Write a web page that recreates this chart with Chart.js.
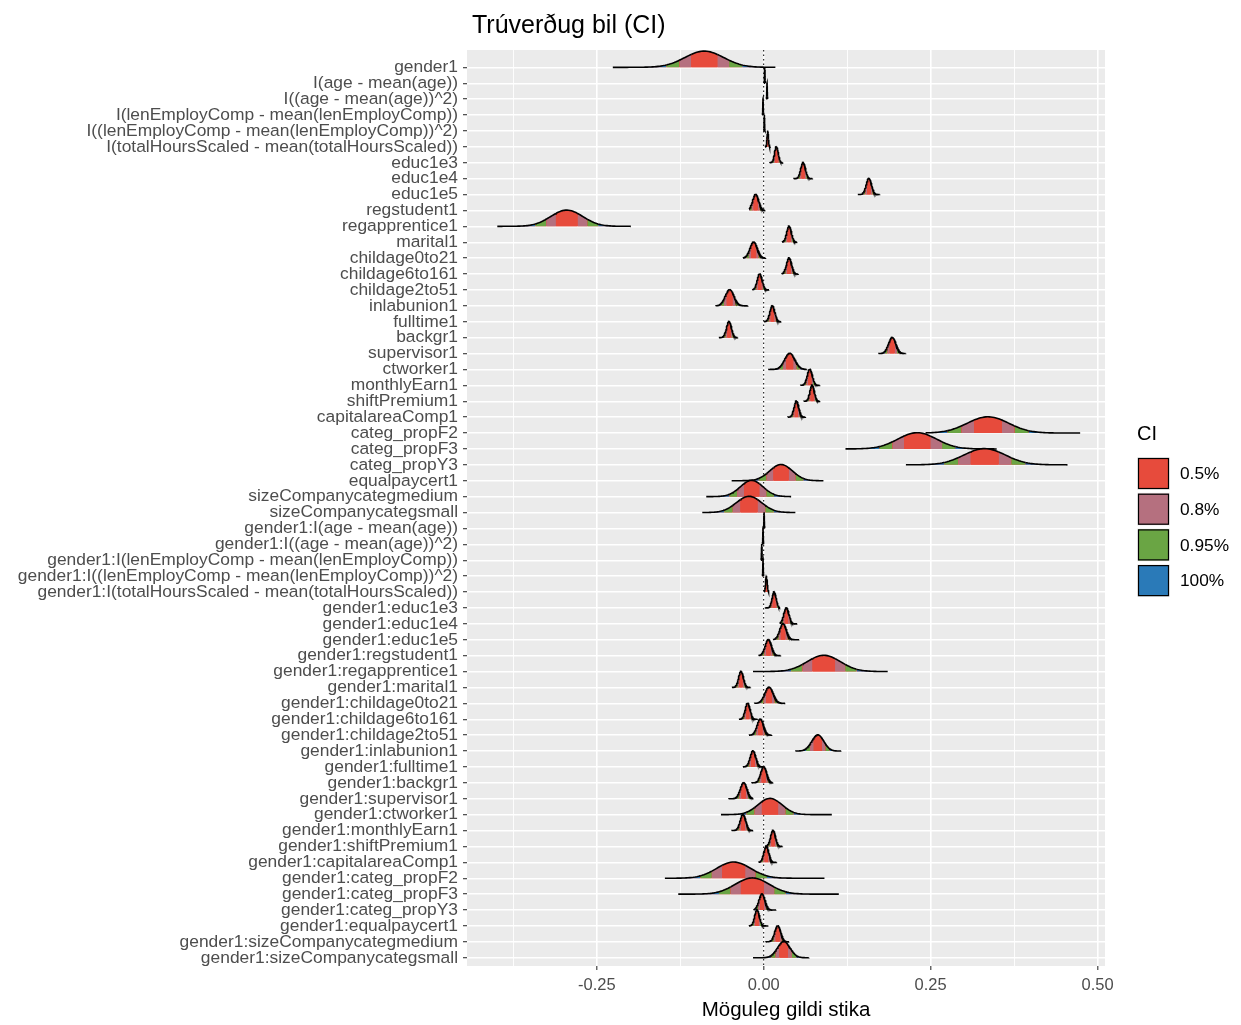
<!DOCTYPE html>
<html>
<head>
<meta charset="utf-8">
<title>Trúverðug bil (CI)</title>
<script src="https://cdn.jsdelivr.net/npm/chart.js@4/dist/chart.umd.min.js"></script>
<style>
  html, body { margin: 0; padding: 0; background: #fff; }
  #wrap { width: 1241px; height: 1025px; }
</style>
</head>
<body>
<div id="wrap"><canvas id="ridges" width="1241" height="1025"></canvas></div>
<script>
// parameters, top row first
const params = [
  "gender1", "I(age - mean(age))", "I((age - mean(age))^2)",
  "I(lenEmployComp - mean(lenEmployComp))", "I((lenEmployComp - mean(lenEmployComp))^2)",
  "I(totalHoursScaled - mean(totalHoursScaled))", "educ1e3", "educ1e4", "educ1e5",
  "regstudent1", "regapprentice1", "marital1", "childage0to21", "childage6to161",
  "childage2to51", "inlabunion1", "fulltime1", "backgr1", "supervisor1", "ctworker1",
  "monthlyEarn1", "shiftPremium1", "capitalareaComp1", "categ_propF2", "categ_propF3",
  "categ_propY3", "equalpaycert1", "sizeCompanycategmedium", "sizeCompanycategsmall",
  "gender1:I(age - mean(age))", "gender1:I((age - mean(age))^2)",
  "gender1:I(lenEmployComp - mean(lenEmployComp))",
  "gender1:I((lenEmployComp - mean(lenEmployComp))^2)",
  "gender1:I(totalHoursScaled - mean(totalHoursScaled))",
  "gender1:educ1e3", "gender1:educ1e4", "gender1:educ1e5", "gender1:regstudent1",
  "gender1:regapprentice1", "gender1:marital1", "gender1:childage0to21",
  "gender1:childage6to161", "gender1:childage2to51", "gender1:inlabunion1",
  "gender1:fulltime1", "gender1:backgr1", "gender1:supervisor1", "gender1:ctworker1",
  "gender1:monthlyEarn1", "gender1:shiftPremium1", "gender1:capitalareaComp1",
  "gender1:categ_propF2", "gender1:categ_propF3", "gender1:categ_propY3",
  "gender1:equalpaycert1", "gender1:sizeCompanycategmedium", "gender1:sizeCompanycategsmall"
];

// posterior centre, spread and draw range
const centers = [
  -0.089, 0.0015, 0.005, -0.001, 0.001, 0.006, 0.019, 0.059, 0.1575,
  -0.012, -0.295, 0.038, -0.015, 0.038,
  -0.006, -0.051, 0.013, -0.052, 0.1925, 0.039,
  0.069, 0.0725, 0.049, 0.336, 0.23,
  0.331, 0.026, -0.018, -0.022,
  0.0006, -0.001, -0.003, -0.001, 0.004,
  0.0156, 0.034, 0.029, 0.007,
  0.09, -0.034, 0.008,
  -0.024, -0.005, 0.081,
  -0.016, 0.0, -0.03, 0.0094,
  -0.031, 0.014, 0.004,
  -0.045, -0.017, -0.0025,
  -0.01, 0.021, 0.03
];
const spreads = [
  0.029, 0.0003, 0.0003, 0.0003, 0.0003, 0.001, 0.0027, 0.0035, 0.004,
  0.0045, 0.024, 0.0035, 0.0055, 0.0038,
  0.0037, 0.0065, 0.0037, 0.0037, 0.0055, 0.0077,
  0.0038, 0.0033, 0.0035, 0.031, 0.029,
  0.031, 0.017, 0.017, 0.019,
  0.0003, 0.0003, 0.0003, 0.0003, 0.0012,
  0.003, 0.0038, 0.005, 0.0047,
  0.025, 0.0036, 0.0063,
  0.0036, 0.0048, 0.009,
  0.0042, 0.0045, 0.005, 0.018,
  0.0042, 0.0036, 0.0037,
  0.0255, 0.0255, 0.0045,
  0.0035, 0.0045, 0.0095
];
const lows = [
  -0.226, 0.0005, 0.004, -0.002, 0.0, 0.002, 0.009, 0.045, 0.141,
  -0.022, -0.399, 0.0275, -0.031, 0.027,
  -0.017, -0.072, 0.0006, -0.067, 0.172, 0.007,
  0.055, 0.06, 0.036, 0.2425, 0.1225,
  0.213, -0.048, -0.086, -0.092,
  -0.0004, -0.002, -0.004, -0.002, 0.0006,
  0.002, 0.024, 0.014, -0.0075,
  -0.016, -0.0475, -0.014,
  -0.037, -0.022, 0.0475,
  -0.031, -0.018, -0.0525, -0.064,
  -0.048, 0.003, -0.0075,
  -0.148, -0.128, -0.015,
  -0.022, 0.003, -0.016
];
const highs = [
  0.0175, 0.0025, 0.006, 0.0, 0.002, 0.01, 0.029, 0.073, 0.174,
  0.002, -0.199, 0.05, 0.003, 0.052,
  0.008, -0.024, 0.026, -0.039, 0.2125, 0.064,
  0.084, 0.084, 0.0625, 0.474, 0.349,
  0.455, 0.091, 0.0425, 0.049,
  0.0016, 0.0, -0.002, 0.0, 0.008,
  0.024, 0.05, 0.053, 0.0256,
  0.188, -0.02, 0.032,
  -0.009, 0.0125, 0.116,
  0.0, 0.014, -0.016, 0.102,
  -0.016, 0.028, 0.019,
  0.091, 0.1125, 0.019,
  0.007, 0.038, 0.0675
];

const ciLabels = ["0.5%", "0.8%", "0.95%", "100%"];
const ciColors = ["#E74B3C", "#B5707F", "#6AA544", "#2A7AB8"];
const ciZ = [0.674, 1.2816, 1.96];   // half-widths of the bands in sd units

const xTickValues = [-0.375, -0.25, -0.125, 0, 0.125, 0.25, 0.375, 0.5];
const xMajor = [-0.25, 0, 0.25, 0.5];

const ridgeHeight = 1.02;   // peak height in rows
const steps = 90;

function bandColor(i, x) {
  const z = Math.abs(x - centers[i]) / spreads[i];
  if (z < ciZ[0]) return ciColors[0];
  if (z < ciZ[1]) return ciColors[1];
  if (z < ciZ[2]) return ciColors[2];
  return ciColors[3];
}

function ridgePoints(i) {
  const m = centers[i], s = spreads[i];
  let xs = [];
  for (let k = 0; k <= steps; k++) xs.push(lows[i] + (highs[i] - lows[i]) * k / steps);
  ciZ.forEach(z => { xs.push(m - z * s); xs.push(m + z * s); });
  xs.push(m);
  xs = xs.filter(x => x >= lows[i] && x <= highs[i]).sort((a, b) => a - b);
  return xs.map(x => ({x: x, y: i - ridgeHeight * Math.exp(-0.5 * Math.pow((x - m) / s, 2))}));
}

const datasets = [];
params.forEach((name, i) => {
  const pts = ridgePoints(i);
  // plain underlay so the band seams don't show the panel through
  datasets.push({
    label: name + " base",
    data: pts,
    borderWidth: 0,
    borderColor: "rgba(0,0,0,0)",
    pointRadius: 0,
    tension: 0,
    fill: {value: i},
    backgroundColor: ciColors[0],
    order: 2 * (params.length - i) + 1
  });
  datasets.push({
    label: name,
    data: pts,
    borderColor: "#000000",
    borderWidth: 1.6,
    pointRadius: 0,
    tension: 0,
    fill: {value: i},
    backgroundColor: ciColors[0],
    segment: {
      backgroundColor: ctx => bandColor(i, (ctx.p0.parsed.x + ctx.p1.parsed.x) / 2)
    },
    order: 2 * (params.length - i)
  });
});

const yMin = -1.09, yMax = params.length - 1 + 0.52;

// dotted reference line at zero, under the ridges
datasets.push({
  label: "zero",
  data: [{x: 0, y: yMin}, {x: 0, y: yMax}],
  borderColor: "#000000",
  borderWidth: 1,
  borderDash: [1.5, 3],
  pointRadius: 0,
  fill: false,
  order: 1000
});

const panelBg = {
  id: "panelBg",
  beforeDraw(chart) {
    const {ctx, chartArea: a} = chart;
    ctx.save();
    ctx.fillStyle = "#EBEBEB";
    ctx.fillRect(a.left, a.top, a.right - a.left, a.bottom - a.top);
    ctx.restore();
  }
};

const titleAndKey = {
  id: "titleAndKey",
  afterDraw(chart) {
    const {ctx, chartArea: a} = chart;
    ctx.save();
    ctx.fillStyle = "#000000";
    ctx.textBaseline = "alphabetic";
    ctx.textAlign = "left";
    ctx.font = "25px 'Liberation Sans', Arial, sans-serif";
    ctx.fillText("Trúverðug bil (CI)", a.left + 5, 33);

    // legend
    const lx = 1137, ly = 457, box = 33, pitch = 35.7;
    ctx.font = "20px 'Liberation Sans', Arial, sans-serif";
    ctx.textBaseline = "middle";
    ctx.fillText("CI", lx, 434);
    ctx.font = "17.3px 'Liberation Sans', Arial, sans-serif";
    ciLabels.forEach((lab, k) => {
      const y = ly + k * pitch;
      ctx.fillStyle = "#F2F2F2";
      ctx.fillRect(lx, y, box, box);
      ctx.fillStyle = ciColors[k];
      ctx.fillRect(lx + 1, y + 1, box - 2, box - 2);
      ctx.strokeStyle = "#000000";
      ctx.lineWidth = 1.2;
      ctx.strokeRect(lx + 1.5, y + 1.5, box - 3, box - 3);
      ctx.fillStyle = "#000000";
      ctx.fillText(lab, lx + 43, y + box / 2 + 1);
    });
    ctx.restore();
  }
};

new Chart(document.getElementById("ridges"), {
  type: "line",
  data: {datasets: datasets},
  options: {
    responsive: false,
    animation: false,
    events: [],
    layout: {padding: {top: 50, right: 136, bottom: 0, left: 0}},
    plugins: {
      legend: {display: false},
      tooltip: {enabled: false},
      title: {display: false}
    },
    scales: {
      x: {
        type: "linear",
        min: -0.4444,
        max: 0.5112,
        afterBuildTicks: axis => { axis.ticks = xTickValues.map(v => ({value: v})); },
        afterFit: scale => { scale.height = 59; },
        ticks: {
          autoSkip: false,
          maxRotation: 0,
          padding: 6,
          color: "#4D4D4D",
          font: {family: "'Liberation Sans', Arial, sans-serif", size: 16.5},
          callback: v => xMajor.includes(v) ? v.toFixed(2) : ""
        },
        grid: {
          color: "#FFFFFF",
          lineWidth: ctx => (ctx.tick && xMajor.includes(ctx.tick.value)) ? 1.6 : 0.9,
          tickLength: 4,
          tickColor: ctx => (ctx.tick && xMajor.includes(ctx.tick.value)) ? "#333333" : "rgba(0,0,0,0)",
          tickWidth: 1.1
        },
        border: {display: false},
        title: {
          display: true,
          text: "Möguleg gildi stika",
          color: "#000000",
          padding: {top: 0, bottom: 2},
          font: {family: "'Liberation Sans', Arial, sans-serif", size: 20.5}
        }
      },
      y: {
        type: "linear",
        reverse: true,
        min: yMin,
        max: yMax,
        afterBuildTicks: axis => { axis.ticks = params.map((_, i) => ({value: i})); },
        afterFit: scale => { scale.width = 467; },
        ticks: {
          autoSkip: false,
          padding: 5,
          color: "#4D4D4D",
          font: {family: "'Liberation Sans', Arial, sans-serif", size: 17.4},
          callback: v => params[v]
        },
        grid: {
          color: "#FFFFFF",
          lineWidth: 1.4,
          tickLength: 4,
          tickColor: "#333333",
          tickWidth: 1.1
        },
        border: {display: false}
      }
    }
  },
  plugins: [panelBg, titleAndKey]
});
</script>
</body>
</html>
